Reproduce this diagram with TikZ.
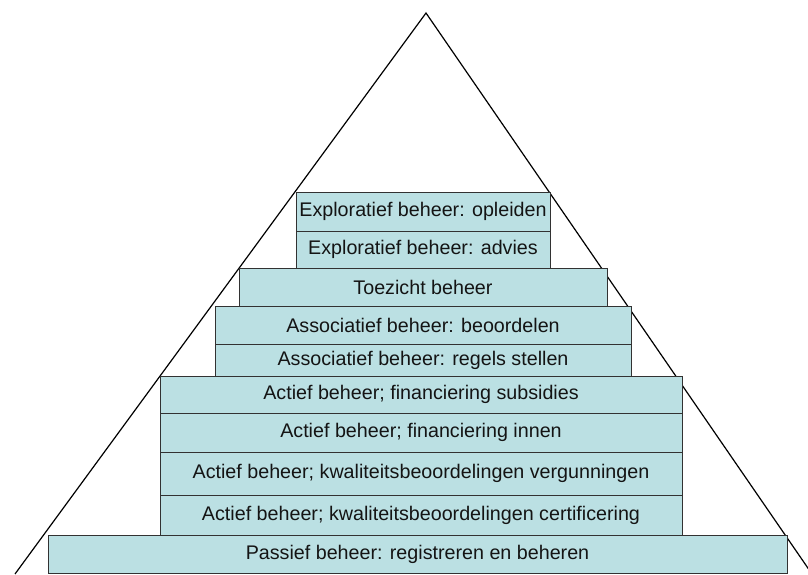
\documentclass[tikz,border=0pt]{standalone}
\usepackage{fontspec}
\setmainfont{Liberation Sans}
\definecolor{boxfill}{RGB}{187,224,227}
\definecolor{boxline}{RGB}{50,50,50}
\definecolor{txt}{RGB}{20,20,20}
\begin{document}
\begin{tikzpicture}[x=1pt,y=-1pt,
  layer/.style={draw=boxline,line width=0.9pt,fill=boxfill,text=txt,inner sep=0pt,
    font=\fontsize{19.7}{21}\selectfont}]
\useasboundingbox (0,0) rectangle (808,574);
\coordinate (apex) at (426,13);
\coordinate (bl) at (15,574);
\coordinate (br) at (812,574);
\begin{scope}
\clip (0,0) rectangle (808,574);
\draw[line width=1.2pt,line join=miter] (bl) -- (apex) -- (br);
\end{scope}
\newcommand{\layerbox}[6]{%
  \node[layer,minimum width={#3-#2},minimum height={#5-#4}] (#1) at ({(#2+#3)/2},{(#4+#5)/2}) {#6};}
\layerbox{l1}{296}{550}{192}{231}{Exploratief beheer: opleiden}
\layerbox{l2}{296}{550}{231}{268}{Exploratief beheer: advies}
\layerbox{l3}{239}{607}{268}{306}{Toezicht beheer}
\layerbox{l4}{215}{631}{306}{344}{Associatief beheer: beoordelen}
\layerbox{l5}{215}{631}{344}{376}{Associatief beheer: regels stellen}
\layerbox{l6}{160}{682}{376}{413}{Actief beheer; financiering subsidies}
\layerbox{l7}{160}{682}{413}{452}{Actief beheer; financiering innen}
\layerbox{l8}{160}{682}{452}{495}{Actief beheer; kwaliteitsbeoordelingen vergunningen}
\layerbox{l9}{160}{682}{495}{535}{Actief beheer; kwaliteitsbeoordelingen certificering}
\layerbox{l10}{48}{787}{535}{573}{Passief beheer: registreren en beheren}
\end{tikzpicture}
\end{document}
